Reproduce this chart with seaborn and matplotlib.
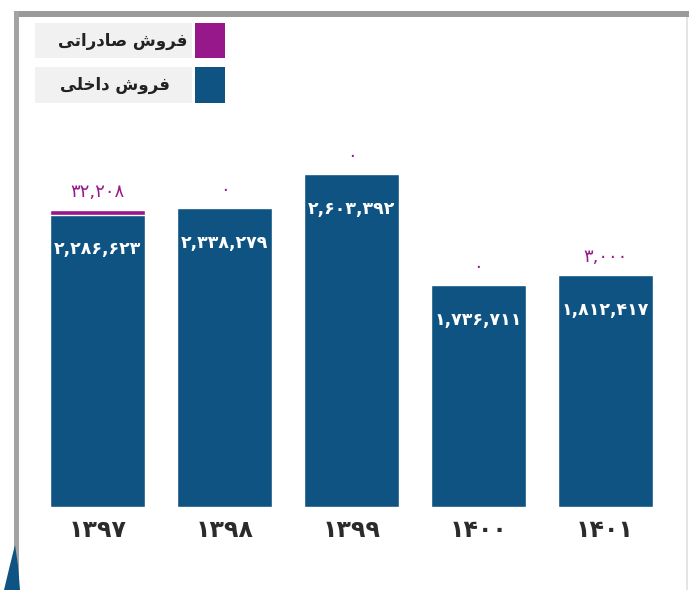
import matplotlib
matplotlib.use("Agg")
import matplotlib.pyplot as plt
import matplotlib.patches as mpatches
import seaborn as sns
import pandas as pd

# Sales by year (Persian calendar)
years = ["1397", "1398", "1399", "1400", "1401"]
domestic_sales = [2286623, 2338279, 2603392, 1736711, 1812417]
export_sales = [32208, 0, 0, 0, 3000]

# Legend labels, already in visual (shaped, right-to-left) order for matplotlib
label_export = "ﯽﺗﺍﺭﺩﺎﺻ ﺵﻭﺮﻓ"    # فروش صادراتی
label_domestic = "ﯽﻠﺧﺍﺩ ﺵﻭﺮﻓ"      # فروش داخلی

BLUE = "#0e5381"
PURPLE = "#97188b"
FA_DIGITS = str.maketrans("0123456789", "۰۱۲۳۴۵۶۷۸۹")


def fa(s):
    return str(s).translate(FA_DIGITS)


def fa_num(n):
    return fa(f"{n:,}")


sns.set_theme(style="white")
plt.rcParams["font.family"] = ["DejaVu Sans"]

df = pd.DataFrame({
    "year": [fa(y) for y in years],
    "domestic": domestic_sales,
    "export": export_sales,
})
df["total"] = df["domestic"] + df["export"]

fig = plt.figure(figsize=(6.89, 5.90), dpi=100)
ax = fig.add_axes([34.5 / 689, 1 - 507 / 590, 634 / 689, 387 / 590])

sns.barplot(data=df, x="year", y="total", color=PURPLE, width=0.75,
            saturation=1, ax=ax)
sns.barplot(data=df, x="year", y="domestic", color=BLUE, width=0.75,
            saturation=1, ax=ax)

ax.set_xlim(-0.5, 4.5)
ax.set_ylim(0, 2603392 * 387 / 333)
ax.set_xlabel("")
ax.set_ylabel("")
ax.set_yticks([])
ax.tick_params(axis="x", length=0, pad=8)
for t in ax.get_xticklabels():
    t.set_fontsize(17)
    t.set_fontweight("bold")
    t.set_color("#2b2b2b")
for s in ax.spines.values():
    s.set_visible(False)

# value labels
for i, row in df.iterrows():
    ax.annotate(fa_num(row["domestic"]), (i, row["domestic"]),
                xytext=(0, -25), textcoords="offset points",
                ha="center", va="center", color="white",
                fontsize=12.5, fontweight="bold")
    ax.annotate(fa_num(row["export"]), (i, row["total"]),
                xytext=(0, 13), textcoords="offset points",
                ha="center", va="center", color=PURPLE, fontsize=13)

# legend boxes
W, H = 689, 590


def fig_rect(x0, y0, x1, y1, color, **kw):
    fig.patches.append(mpatches.Rectangle(
        (x0 / W, 1 - y1 / H), (x1 - x0) / W, (y1 - y0) / H,
        transform=fig.transFigure, facecolor=color, edgecolor="none", **kw))


fig_rect(35, 23, 192, 58, "#f1f1f1")
fig_rect(35, 67, 192, 103, "#f1f1f1")
fig_rect(195, 23, 225, 58, PURPLE)
fig_rect(195, 67, 225, 103, BLUE)
fig.text(187 / W, 1 - 41 / H, label_export, ha="right", va="center",
         fontsize=12, fontweight="bold", color="#222222")
fig.text(170 / W, 1 - 85 / H, label_domestic, ha="right", va="center",
         fontsize=12, fontweight="bold", color="#222222")

# frame
fig_rect(14, 11, 689, 17, "#9a9a9a")
fig_rect(14, 11, 19, 590, "#a3a3a3")
fig_rect(686, 17, 688, 590, "#e4e4e4")
fig.patches.append(mpatches.Polygon(
    [(4 / W, 0), (20 / W, 0), (18 / W, 1 - 565 / H), (15 / W, 1 - 545 / H),
     (10 / W, 1 - 565 / H)],
    closed=True, transform=fig.transFigure, facecolor=BLUE, edgecolor="none"))

fig.savefig("out.png", dpi=100, facecolor="white")
